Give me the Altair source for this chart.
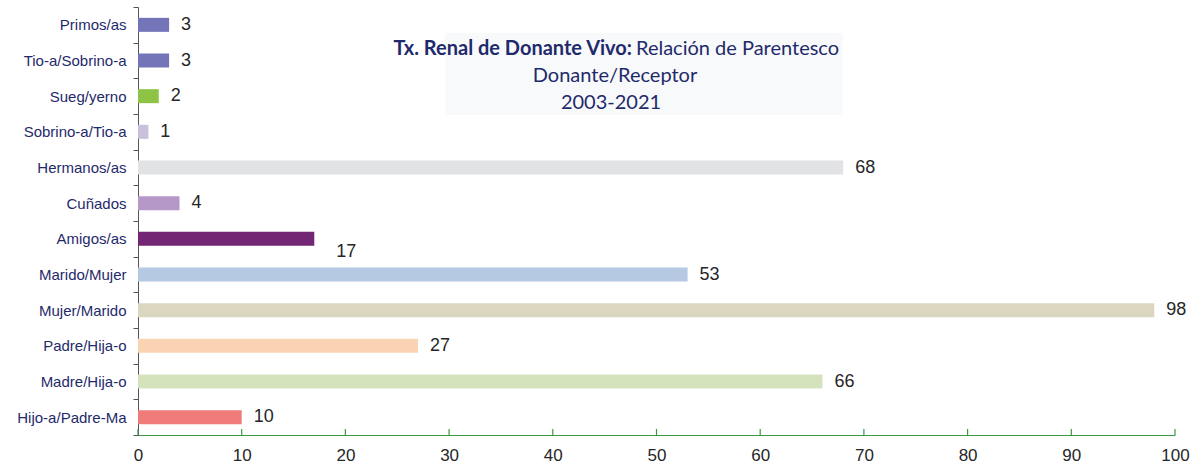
import altair as alt
import pandas as pd

categories = ["Primos/as", "Tio-a/Sobrino-a", "Sueg/yerno", "Sobrino-a/Tio-a",
              "Hermanos/as", "Cuñados", "Amigos/as", "Marido/Mujer",
              "Mujer/Marido", "Padre/Hija-o", "Madre/Hija-o", "Hijo-a/Padre-Ma"]
values = [3, 3, 2, 1, 68, 4, 17, 53, 98, 27, 66, 10]
colors = ["#7474B8", "#7474B8", "#8DC446", "#C9C0DC", "#E1E2E4", "#B597C8",
          "#732673", "#B5CAE2", "#DBD6C0", "#FAD3B3", "#D5E3BD", "#F07B7B"]
x_ticks = [0, 10, 20, 30, 40, 50, 60, 70, 80, 90, 100]

W, H = 1037, 428
NAVY = "#1F2A6B"

df = pd.DataFrame({"cat": categories, "val": values, "color": colors})

xs = alt.Scale(domain=[0, 100], nice=False)
ys = alt.Scale(domain=categories, paddingInner=0, paddingOuter=0)

base = alt.Chart(df)

box = alt.Chart(pd.DataFrame({"a": [0]})).mark_rect(color="#F8F9FA").encode(
    x=alt.value(307), x2=alt.value(705), y=alt.value(26), y2=alt.value(108))

bars = base.mark_bar(size=14).encode(
    x=alt.X("val:Q", scale=xs,
            axis=alt.Axis(values=x_ticks, ticks=False, grid=False, title=None,
                          domainColor="#3A9A4A", domainWidth=1.2,
                          labelFlush=False, labelOverlap=False,
                          labelFont="Liberation Sans", labelFontSize=17,
                          labelColor="#262626", labelPadding=12)),
    y=alt.Y("cat:N", scale=ys, sort=categories,
            axis=alt.Axis(title=None, tickBand="extent", tickSize=5,
                          tickColor="#555555", domainColor="#555555",
                          labelFont="Liberation Sans", labelFontSize=15,
                          labelColor=NAVY, labelPadding=7)),
    color=alt.Color("color:N", scale=None),
)

labels = base.transform_filter(alt.datum.cat != "Amigos/as").mark_text(
    align="left", baseline="middle", dx=12, fontSize=18,
    font="Liberation Sans", color="#262626").encode(
    x=alt.X("val:Q", scale=xs), y=alt.Y("cat:N", scale=ys, sort=categories),
    text="val:Q")

label_amigos = base.transform_filter(alt.datum.cat == "Amigos/as").mark_text(
    align="left", baseline="middle", dx=22, dy=13, fontSize=18,
    font="Liberation Sans", color="#262626").encode(
    x=alt.X("val:Q", scale=xs), y=alt.Y("cat:N", scale=ys, sort=categories),
    text="val:Q")

tick_df = pd.DataFrame({"t": x_ticks})
xticks = alt.Chart(tick_df).mark_rule(color="#3A9A4A", strokeWidth=1.2).encode(
    x=alt.X("t:Q", scale=xs), y=alt.value(H), y2=alt.value(H - 6))

one = pd.DataFrame({"a": [0]})
tfont = "Lato"
TS = 20
t1b = alt.Chart(one).mark_text(text="Tx. Renal de Donante Vivo:", align="right",
                               baseline="middle", fontWeight="bold", fontSize=TS,
                               font=tfont, color=NAVY).encode(
    x=alt.value(494), y=alt.value(42))
t1n = alt.Chart(one).mark_text(text="Relación de Parentesco", align="left",
                               baseline="middle", fontSize=TS,
                               font=tfont, color=NAVY).encode(
    x=alt.value(498), y=alt.value(42))
t2 = alt.Chart(one).mark_text(text="Donante/Receptor", align="center",
                              baseline="middle", fontSize=TS,
                              font=tfont, color=NAVY).encode(
    x=alt.value(477), y=alt.value(69))
t3 = alt.Chart(one).mark_text(text="2003-2021", align="center",
                              baseline="middle", fontSize=TS,
                              font=tfont, color=NAVY).encode(
    x=alt.value(473), y=alt.value(96))

chart = alt.layer(box, bars, labels, label_amigos, xticks, t1b, t1n, t2, t3).properties(
    width=W, height=H,
    autosize=alt.AutoSizeParams(type="none"),
    padding={"left": 138, "top": 7, "right": 21, "bottom": 35},
).configure(background="white").configure_view(stroke=None, strokeWidth=0)

chart.save("out.html", embed_options={"renderer": "svg", "actions": False})
